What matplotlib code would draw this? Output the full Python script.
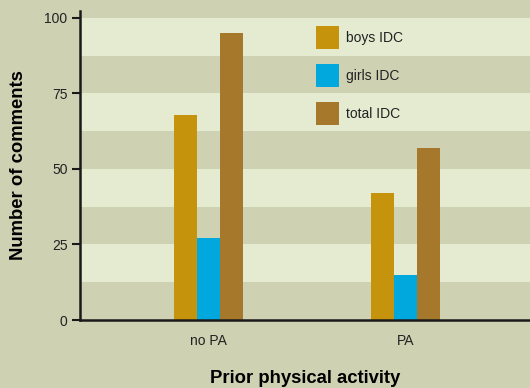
import numpy as np
import matplotlib
matplotlib.use("Agg")
import matplotlib.pyplot as plt

plt.rcParams['font.family'] = ['Liberation Sans', 'DejaVu Sans']

groups = ["no PA", "PA"]
series_names = ["boys IDC", "girls IDC", "total IDC"]
boys = [68, 42]
girls = [27, 15]
total = [95, 57]
y_ticks = [0, 25, 50, 75, 100]

colors = ["#C5930C", "#00A8DD", "#A6782C"]
bg_dark = "#CFD1B3"
bg_light = "#E4EBD1"

W, H = 530, 388
fig = plt.figure(figsize=(W / 100, H / 100), dpi=100, facecolor=bg_dark)
ax = fig.add_axes([80 / W, (H - 320) / H, 450 / W, (320 - 11) / H])
ax.set_facecolor(bg_dark)

# alternating horizontal bands
for lo in np.arange(12.5, 100, 25):
    ax.axhspan(lo, lo + 12.5, color=bg_light, zorder=0, lw=0)

x = np.arange(len(groups))
width = 0.117
for i, (vals, name, c) in enumerate(zip([boys, girls, total], series_names, colors)):
    ax.bar(x + (i - 1) * width, vals, width, color=c, label=name, zorder=2, lw=0)

ax.set_xlim(-0.652, 1.632)
ax.set_ylim(0, 102.3)
ax.set_yticks(y_ticks)
ax.set_xticks(x)
ax.set_xticklabels(groups)

for s in ["top", "right"]:
    ax.spines[s].set_visible(False)
for s in ["left", "bottom"]:
    ax.spines[s].set_linewidth(1.8)
    ax.spines[s].set_color("#1a1a1a")

ax.tick_params(axis="y", length=6, width=1.5, color="#1a1a1a", labelsize=10,
               labelcolor="#222222", pad=3)
ax.tick_params(axis="x", length=0, labelsize=10, labelcolor="#222222", pad=10)

ax.set_ylabel("Number of comments", fontsize=13.3, fontweight="bold")
ax.set_xlabel("Prior physical activity", fontsize=13.3, fontweight="bold")
ax.yaxis.set_label_coords(-0.117, 0.5)
ax.xaxis.set_label_coords(0.5, -0.163)

leg = ax.legend(loc="upper left", bbox_to_anchor=(0.5244, 0.9515), frameon=False,
                fontsize=10, handlelength=1.66, handleheight=2.17,
                labelspacing=1.08, handletextpad=0.5, borderaxespad=0, borderpad=0)
for t in leg.get_texts():
    t.set_color("#222222")

fig.savefig("out.png", dpi=100, facecolor=bg_dark)
